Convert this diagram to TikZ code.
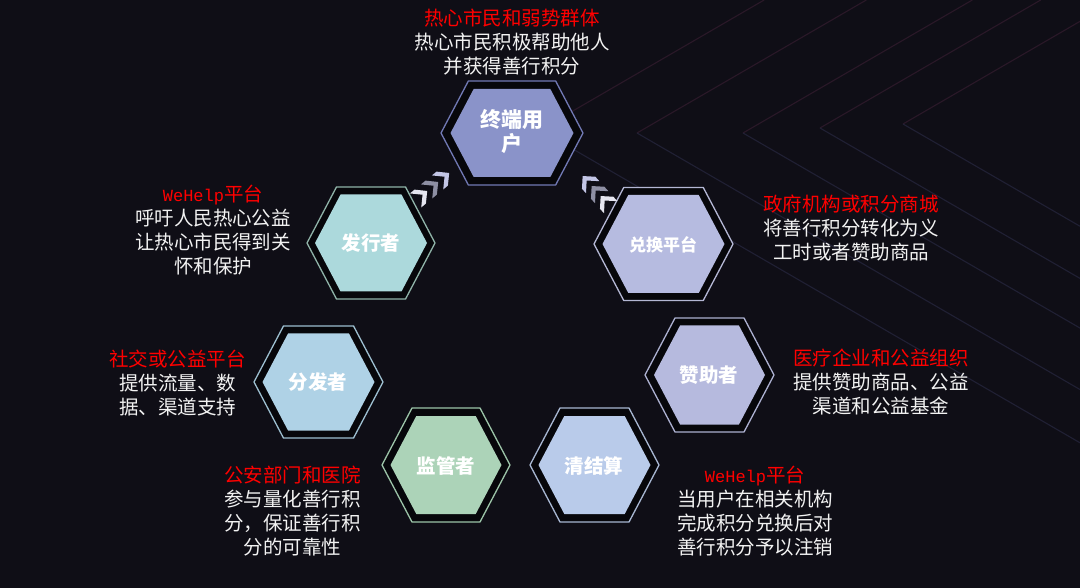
\documentclass[tikz,border=0pt]{standalone}
\usepackage{fontspec}
\setmainfont{Noto Sans CJK SC}
\newfontfamily\monof{Liberation Mono}
\definecolor{bgc}{HTML}{0F0E16}
\definecolor{ringc}{HTML}{07070B}
\definecolor{lineA}{HTML}{2A1828}
\definecolor{lineB}{HTML}{202034}
\definecolor{txtw}{HTML}{F2F2F2}
\definecolor{ttlred}{HTML}{FF0000}
\definecolor{zdF}{HTML}{8A93C9}\definecolor{zdE}{HTML}{7179B4}
\definecolor{fxF}{HTML}{ACD9DC}\definecolor{fxE}{HTML}{8FB3A8}
\definecolor{dhF}{HTML}{B6BBE0}\definecolor{dhE}{HTML}{B4B7D4}
\definecolor{ffF}{HTML}{AFD2E6}\definecolor{ffE}{HTML}{9DBFD0}
\definecolor{zzF}{HTML}{B6BADE}\definecolor{zzE}{HTML}{ACB0D0}
\definecolor{jgF}{HTML}{ACD3B8}\definecolor{jgE}{HTML}{9CC4A8}
\definecolor{qjF}{HTML}{B9CBEA}\definecolor{qjE}{HTML}{A8B7D2}
\definecolor{chW}{HTML}{E6E6F0}
\definecolor{chG}{HTML}{8E8FA3}
\definecolor{chL}{HTML}{C3C6E6}
\newcommand{\hexshape}[5]{%
  \path[#5] (#1-#3,#2) -- (#1-#3+#4/1.9,#2-#4) -- (#1+#3-#4/1.9,#2-#4) -- (#1+#3,#2)
    -- (#1+#3-#4/1.9,#2+#4) -- (#1-#3+#4/1.9,#2+#4) -- cycle;}
\newcommand{\chev}[4]{%
  \fill[#4,shift={(#1,#2)},rotate=#3] (-7,-9) -- (-1,-9) -- (8,0) -- (-1,9) -- (-7,9) -- (2,0) -- cycle;}
\newcommand{\wh}{{\monof\fontsize{17}{24}\selectfont WeHelp}}
\begin{document}
\begin{tikzpicture}[x=1pt,y=-1pt,
  hexlabel/.style={text=white,font=\bfseries\fontsize{19.5}{22}\selectfont,align=center,inner sep=0pt},
  desc/.style={text=txtw,font=\fontsize{19.5}{24}\selectfont,align=center,inner sep=0pt},
  bgline/.style={line width=1.1pt}]
\fill[bgc] (0,0) rectangle (1080,588);
\useasboundingbox (0,0) rectangle (1080,588);
% background chevron lines
\foreach \vx/\vy in {540/130, 637/133, 743/133, 820/128, 903/124} {
  \draw[bgline,lineA] (\vx+\vy/0.58,0) -- (\vx,\vy);
  \draw[bgline,lineB] (\vx,\vy) -- (1080,\vy+626-0.58*\vx);
}
% hexagons
\hexshape{512}{133}{71}{52}{fill=ringc,draw=zdE,line width=1.3pt}
\hexshape{512}{133}{61.5}{44}{fill=zdF}
\hexshape{371}{243}{64}{56}{fill=ringc,draw=fxE,line width=1.3pt}
\hexshape{371}{243}{56}{48.5}{fill=fxF}
\hexshape{663.5}{244}{69.5}{56.5}{fill=ringc,draw=dhE,line width=1.3pt}
\hexshape{663.5}{244}{61}{49}{fill=dhF}
\hexshape{318.5}{382}{64.5}{56}{fill=ringc,draw=ffE,line width=1.3pt}
\hexshape{318.5}{382}{56}{48.5}{fill=ffF}
\hexshape{709.5}{375}{64.5}{57}{fill=ringc,draw=zzE,line width=1.3pt}
\hexshape{709.5}{375}{55.5}{49.5}{fill=zzF}
\hexshape{446}{465}{64}{57}{fill=ringc,draw=jgE,line width=1.3pt}
\hexshape{446}{465}{55.5}{49}{fill=jgF}
\hexshape{594.5}{465}{64.5}{57}{fill=ringc,draw=qjE,line width=1.3pt}
\hexshape{594.5}{465}{56}{49}{fill=qjF}
% hexagon labels
\node[hexlabel,font=\bfseries\fontsize{21}{24}\selectfont] (zd) at (512,132) {终端用\\户};
\node[hexlabel] (fx) at (371,243) {发行者};
\node[hexlabel,font=\bfseries\fontsize{17}{20}\selectfont] (dh) at (663,245) {兑换平台};
\node[hexlabel] (ff) at (318,382) {分发者};
\node[hexlabel] (zz) at (709,375) {赞助者};
\node[hexlabel] (jg) at (446,466) {监管者};
\node[hexlabel] (qj) at (594,466) {清结算};
% chevrons toward the end user
\chev{421}{196}{39}{chW}
\chev{432}{187}{39}{chG}
\chev{443}{178}{39}{chL}
\chev{588}{182}{132}{chL}
\chev{597}{192}{132}{chG}
\chev{606}{202}{132}{chW}
% descriptions
\node[desc] (dzd) at (512,42.5) {\textcolor{ttlred}{热心市民和弱势群体}\\热心市民积极帮助他人\\并获得善行积分};
\node[desc] (dfx) at (213,230) {\textcolor{ttlred}{\wh 平台}\\呼吁人民热心公益\\让热心市民得到关\\怀和保护};
\node[desc] (ddh) at (851,228) {\textcolor{ttlred}{政府机构或积分商城}\\将善行积分转化为义\\工时或者赞助商品};
\node[desc] (dff) at (177.5,383) {\textcolor{ttlred}{社交或公益平台}\\提供流量、数\\据、渠道支持};
\node[desc] (dzz) at (881,382) {\textcolor{ttlred}{医疗企业和公益组织}\\提供赞助商品、公益\\渠道和公益基金};
\node[desc] (djg) at (292.5,511) {\textcolor{ttlred}{公安部门和医院}\\参与量化善行积\\分，保证善行积\\分的可靠性};
\node[desc] (dqj) at (755,511) {\textcolor{ttlred}{\wh 平台}\\当用户在相关机构\\完成积分兑换后对\\善行积分予以注销};
\end{tikzpicture}
\end{document}
